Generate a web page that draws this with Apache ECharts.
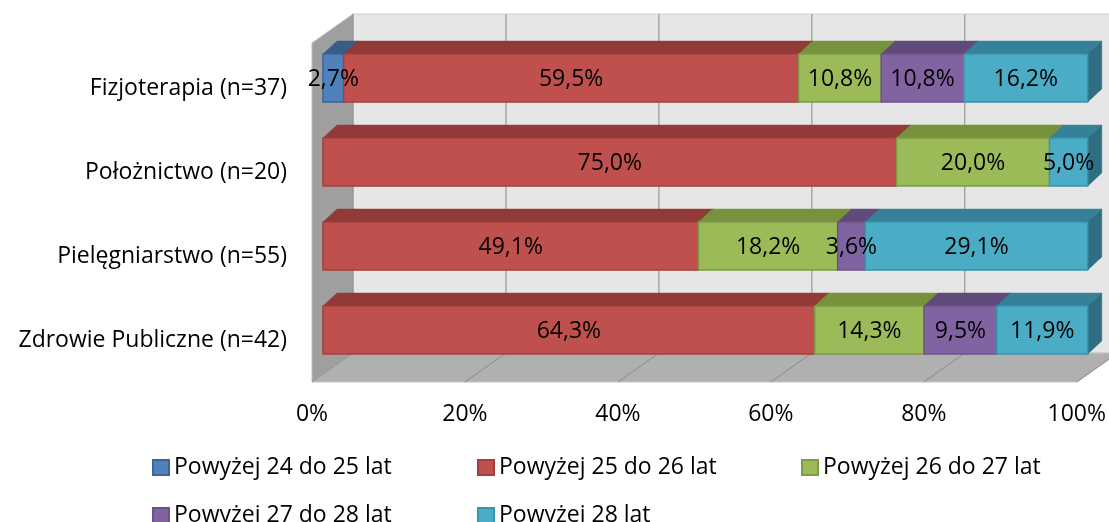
<!DOCTYPE html>
<html>
<head>
<meta charset="utf-8">
<script src="https://cdn.jsdelivr.net/npm/echarts@6/dist/echarts.min.js"></script>
<style>
html, body { margin: 0; background: #fff; }
#chart { width: 1109px; height: 522px; }
</style>
</head>
<body>
<div id="chart"></div>
<script>
// kategorie (od góry)
var categories = ['Fizjoterapia (n=37)', 'Położnictwo (n=20)', 'Pielęgniarstwo (n=55)', 'Zdrowie Publiczne (n=42)'];
var seriesNames = ['Powyżej 24 do 25 lat', 'Powyżej 25 do 26 lat', 'Powyżej 26 do 27 lat', 'Powyżej 27 do 28 lat', 'Powyżej 28 lat'];
var wiek2425 = [2.7, 0, 0, 0];
var wiek2526 = [59.5, 75.0, 49.1, 64.3];
var wiek2627 = [10.8, 20.0, 18.2, 14.3];
var wiek2728 = [10.8, 0, 3.6, 9.5];
var wiek28 = [16.2, 5.0, 29.1, 11.9];
var xTicks = [0, 20, 40, 60, 80, 100];

var values = [wiek2425, wiek2526, wiek2627, wiek2728, wiek28];
var front = ['#4F81BD', '#C0504D', '#9BBB59', '#8064A2', '#4BACC6'];
var topC = ['#385D8A', '#913A38', '#76923C', '#5F4A7B', '#35819A'];
var sideC = ['#2F4F75', '#7A302E', '#637B32', '#4F3E67', '#2E6E80'];
var edge = ['#3A6595', '#A3403D', '#7F9B45', '#6A5389', '#3A93AB'];

var FONT = 'Open Sans';
var FS = 23;
var DEPTH = [41, -29]; // głębokość ścian

function fmt(v) {
    return v.toFixed(1).replace('.', ',') + '%';
}

// skumulowane początki segmentów
var starts = values.map(function () { return []; });
for (var c = 0; c < categories.length; c++) {
    var acc = 0;
    for (var s = 0; s < values.length; s++) {
        starts[s][c] = acc;
        acc += values[s][c];
    }
}

function makeBar(si) {
    return function (params, api) {
        var start = api.value(0), end = api.value(1), cat = api.value(2);
        if (end - start <= 0) return;
        var p0 = api.coord([start, cat]);
        var p1 = api.coord([end, cat]);
        var band = api.size([0, 1])[1];
        var h = band * 0.57;
        var x0 = p0[0] + 11, x1 = p1[0] + 11;
        var yc = p0[1] - 10;
        var yt = yc - h / 2, yb = yc + h / 2;
        var dx = 14, dy = -13;
        return {
            type: 'group',
            children: [
                { type: 'polygon', z2: si,
                  shape: { points: [[x0, yt], [x0 + dx, yt + dy], [x1 + dx, yt + dy], [x1, yt]] },
                  style: { fill: topC[si], stroke: topC[si], lineWidth: 0.5 } },
                { type: 'polygon', z2: si,
                  shape: { points: [[x1, yt], [x1 + dx, yt + dy], [x1 + dx, yb + dy], [x1, yb]] },
                  style: { fill: sideC[si], stroke: sideC[si], lineWidth: 0.5 } },
                { type: 'rect', z2: si,
                  shape: { x: x0, y: yt, width: x1 - x0, height: h },
                  style: { fill: front[si], stroke: edge[si], lineWidth: 1.5 } },
                { type: 'text', z2: 100,
                  style: { x: (x0 + x1) / 2, y: yc + 1, text: fmt(end - start),
                           fill: '#000', font: FS + 'px "' + FONT + '"',
                           align: 'center', verticalAlign: 'middle' } }
            ]
        };
    };
}

function renderWalls(params, api) {
    var band = api.size([0, 1])[1];
    var xL = api.coord([0, 0])[0];
    var xR = api.coord([100, 0])[0];
    var yTop = api.coord([0, 0])[1] - band / 2;
    var yBot = api.coord([0, categories.length - 1])[1] + band / 2;
    var dx = DEPTH[0], dy = DEPTH[1];
    var children = [
        { type: 'rect', shape: { x: xL + dx, y: yTop - 3 + dy, width: xR - xL, height: (yBot + dy) - (yTop - 3 + dy) },
          style: { fill: '#E6E6E6', stroke: '#CFCFCF', lineWidth: 1 } },
        { type: 'polygon', shape: { points: [[xL, yTop - 3], [xL + dx, yTop - 3 + dy], [xL + dx, yBot + dy], [xL, yBot]] },
          style: { fill: '#9F9F9F', stroke: '#BDBDBD', lineWidth: 1 } },
        { type: 'polygon', shape: { points: [[xL, yBot], [xR, yBot], [xR + dx, yBot + dy], [xL + dx, yBot + dy]] },
          style: { fill: '#B0B0B0', stroke: '#C4C4C4', lineWidth: 1 } }
    ];
    xTicks.forEach(function (t) {
        var x = api.coord([t, 0])[0];
        children.push({ type: 'line', shape: { x1: x + dx, y1: yTop - 3 + dy, x2: x + dx, y2: yBot + dy },
            style: { stroke: '#878787', lineWidth: 1 } });
        children.push({ type: 'line', shape: { x1: x, y1: yBot, x2: x + dx, y2: yBot + dy },
            style: { stroke: '#8A8A8A', lineWidth: 1 } });
    });
    return { type: 'group', children: children };
}

var series = [{
    type: 'custom',
    name: 'walls',
    renderItem: renderWalls,
    data: [[0, 0, 0]],
    z: 1,
    silent: true
}];
values.forEach(function (arr, si) {
    series.push({
        type: 'custom',
        name: seriesNames[si],
        renderItem: makeBar(si),
        encode: { x: [0, 1], y: 2 },
        itemStyle: { color: front[si], borderColor: edge[si], borderWidth: 1 },
        data: arr.map(function (v, c) { return [starts[si][c], starts[si][c] + v, c]; }),
        z: 2
    });
});

// jedna legenda na pozycję (dwa wiersze, trzy kolumny)
var legendPos = [[147, 451], [472, 451], [796, 451], [147, 499], [472, 499]];
var legends = seriesNames.map(function (name, i) {
    return {
        left: legendPos[i][0],
        top: legendPos[i][1],
        itemWidth: 16,
        itemHeight: 15,
        itemGap: 0,
        icon: 'rect',
        data: [name],
        textStyle: { fontFamily: FONT, fontSize: FS, color: '#000' }
    };
});

var chart = echarts.init(document.getElementById('chart'));
chart.setOption({
    animation: false,
    grid: { left: 312, right: 32, top: 46, bottom: 140 },
    xAxis: {
        type: 'value', min: 0, max: 100, interval: 20,
        axisLine: { show: false }, axisTick: { show: false }, splitLine: { show: false },
        axisLabel: { formatter: '{value}%', margin: 21, fontFamily: FONT, fontSize: FS, color: '#000' }
    },
    yAxis: {
        type: 'category', inverse: true, data: categories,
        axisLine: { show: false }, axisTick: { show: false },
        axisLabel: { margin: 25, fontFamily: FONT, fontSize: FS, color: '#000' }
    },
    legend: legends,
    series: series
});
</script>
</body>
</html>
